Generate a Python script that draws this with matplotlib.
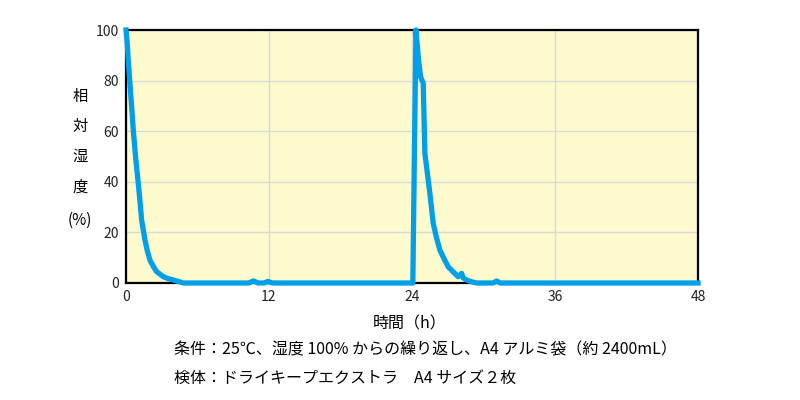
import matplotlib
matplotlib.use("Agg")
import matplotlib.pyplot as plt

plt.rcParams['font.family'] = ['Noto Sans CJK JP', 'DejaVu Sans']

# 経過時間 (h) と相対湿度 (%)
hours = [0.0, 0.1, 0.2, 0.33, 0.5, 0.61, 0.8, 1.03, 1.2, 1.31, 1.45, 1.59, 1.8, 2.01, 2.3,
         2.57, 2.85, 3.13, 3.5, 3.97, 4.4, 4.8, 6.0, 8.0, 10.3, 10.7, 11.1, 11.6,
         11.9, 12.3, 16.0, 20.0, 24.07,
         24.33, 24.55, 24.72, 24.94, 25.08, 25.3, 25.5, 25.78, 26.05, 26.34, 26.7,
         27.04, 27.5, 27.88, 28.0, 28.16, 28.3, 28.58, 29.0, 29.42, 30.8, 31.1,
         31.4, 36.0, 42.0, 48.0]
humidity = [100, 95, 87, 79, 68, 60.5, 50, 39.4, 31, 24.9, 21, 17, 12.5, 9, 6.5,
            4.5, 3.5, 2.5, 1.8, 1.2, 0.6, 0, 0, 0, 0, 0.8, 0, 0,
            0.6, 0, 0, 0, 0,
            100, 88, 81.5, 79, 51.3, 43, 35.4, 23.6, 18, 13, 9.5,
            6.4, 4.2, 2.5, 3.0, 3.8, 2.0, 1.2, 0.5, 0, 0, 0.8,
            0, 0, 0, 0]

xticks = [0, 12, 24, 36, 48]
yticks = [0, 20, 40, 60, 80, 100]

fig = plt.figure(figsize=(8, 4), dpi=100)
ax = fig.add_axes([0.1575, 0.2925, 0.715, 0.6325])
ax.set_facecolor('#fdfbcd')
ax.plot(hours, humidity, color='#00a0e9', linewidth=3.8, solid_joinstyle='round',
        clip_on=False, zorder=3)
ax.set_xlim(0, 48)
ax.set_ylim(0, 100)
ax.set_xticks(xticks)
ax.set_yticks(yticks)
ax.tick_params(length=0, labelsize=10, pad=5, colors='#222222')
ax.grid(color='#d9d9d9', linewidth=1)
for s in ax.spines.values():
    s.set_color('black')
    s.set_linewidth(1.6)

# 縦書きの軸ラベル
for i, ch in enumerate(['相', '対', '湿', '度']):
    fig.text(0.1, 0.758 - i * 0.075, ch, ha='center', va='center', fontsize=11)
fig.text(0.1, 0.45, '(%)', ha='center', va='center', fontsize=11)

fig.text(0.512, 0.19, '時間（h）', ha='center', va='center', fontsize=11.5)
fig.text(0.218, 0.125, '条件：25℃、湿度 100% からの繰り返し、A4 アルミ袋（約 2400mL）',
         ha='left', va='center', fontsize=11.5)
fig.text(0.218, 0.055, '検体：ドライキープエクストラ　A4 サイズ２枚',
         ha='left', va='center', fontsize=11.5)

fig.savefig('out.png', dpi=100)
